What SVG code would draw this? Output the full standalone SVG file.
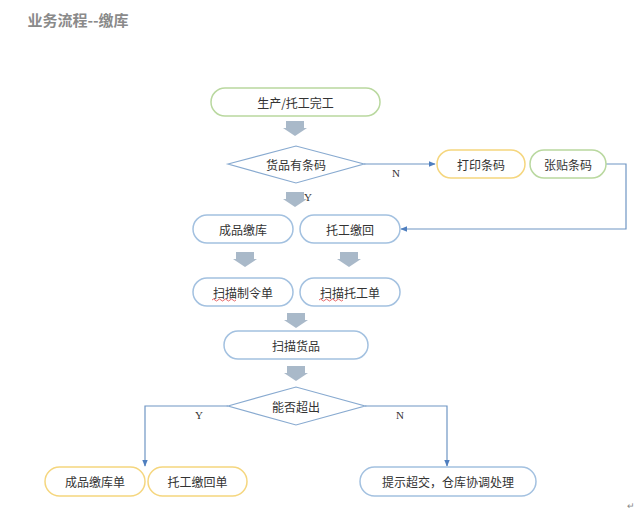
<svg xmlns="http://www.w3.org/2000/svg" width="640" height="514" viewBox="0 0 640 514">
<style>
text{font-family:"Noto Sans CJK SC","Noto Sans",sans-serif;font-size:12px;fill:#333;text-anchor:middle;dominant-baseline:central}
.lbl{font-family:"Liberation Serif",serif;font-size:11px;fill:#333}
.pg{fill:#fff;stroke:#b9d89f;stroke-width:1.5}
.py{fill:#fff;stroke:#f5d67e;stroke-width:1.5}
.pb{fill:#fff;stroke:#a3c1e0;stroke-width:1.5}
.dm{fill:#fff;stroke:#88aad0;stroke-width:1.2}
.ba{fill:#a9b9c9}
.ln{fill:none;stroke:#6f96c4;stroke-width:1.2}
.sq{fill:none;stroke:#e04040;stroke-width:0.8}
</style>
<defs>
<marker id="ah" viewBox="0 0 10 10" refX="9" refY="5" markerWidth="7" markerHeight="7" orient="auto" markerUnits="userSpaceOnUse">
<path d="M0,1 L10,5 L0,9 Z" fill="#4f7fbf"/>
</marker>
<path id="blk" d="M-9,0 H9 V7 H12 L0,15 L-12,7 H-9 Z"/>
</defs>
<rect width="640" height="514" fill="#fff"/>
<text x="78" y="19" style="font-size:15px;font-weight:bold;fill:#8a8a8a">业务流程--缴库</text>

<g id="block-arrows" class="ba">
<use href="#blk" x="295" y="121"/>
<use href="#blk" x="295" y="192"/>
<use href="#blk" x="245" y="252"/>
<use href="#blk" x="349" y="252"/>
<use href="#blk" x="296" y="313"/>
<use href="#blk" x="296" y="366"/>
</g>

<g id="connectors">
<path class="ln" d="M364,164 H435" marker-end="url(#ah)"/>
<path class="ln" d="M606,164 H626 V229 H401" marker-end="url(#ah)"/>
<path class="ln" d="M228,406 H145 V466" marker-end="url(#ah)"/>
<path class="ln" d="M365,406 H447 V466" marker-end="url(#ah)"/>
<text class="lbl" x="396" y="173">N</text>
<text class="lbl" x="308" y="197">Y</text>
<text class="lbl" x="199" y="415">Y</text>
<text class="lbl" x="400" y="415">N</text>
</g>

<g id="n-start"><rect class="pg" x="211" y="88" width="169" height="28" rx="14"/><text x="295.5" y="102">生产/托工完工</text></g>
<g id="n-has-barcode"><polygon class="dm" points="228,164 296,146 364,164 296,183"/><text x="296" y="164">货品有条码</text></g>
<g id="n-print"><rect class="py" x="437" y="150" width="88" height="28" rx="14"/><text x="481" y="164">打印条码</text></g>
<g id="n-stick"><rect class="pg" x="530" y="150" width="76" height="28" rx="14"/><text x="568" y="164">张贴条码</text></g>
<g id="n-fg-in"><rect class="pb" x="193" y="215" width="100" height="28" rx="14"/><text x="243" y="229">成品缴库</text></g>
<g id="n-oem-back"><rect class="pb" x="300" y="215" width="100" height="28" rx="14"/><text x="350" y="229">托工缴回</text></g>
<g id="n-scan-mo"><rect class="pb" x="193" y="278" width="100" height="28" rx="14"/><text x="243" y="292">扫描制令单</text><path class="sq" d="M212,300 q1.5,-2 3,0 t3,0 t3,0 t3,0 t3,0 t3,0 t3,0 t3,0"/></g>
<g id="n-scan-oem"><rect class="pb" x="300" y="278" width="100" height="28" rx="14"/><text x="350" y="292">扫描托工单</text><path class="sq" d="M319,300 q1.5,-2 3,0 t3,0 t3,0 t3,0 t3,0 t3,0 t3,0 t3,0"/></g>
<g id="n-scan-goods"><rect class="pb" x="224" y="331" width="144" height="28" rx="14"/><text x="296" y="345">扫描货品</text></g>
<g id="n-exceed"><polygon class="dm" points="228,406 296,387 365,406 296,425"/><text x="296" y="406">能否超出</text></g>
<g id="n-fg-slip"><rect class="py" x="45" y="467" width="100" height="29" rx="14.5"/><text x="95" y="481.5">成品缴库单</text></g>
<g id="n-oem-slip"><rect class="py" x="148" y="467" width="99" height="29" rx="14.5"/><text x="197.5" y="481.5">托工缴回单</text></g>
<g id="n-warn"><rect class="pb" x="360" y="467" width="176" height="29" rx="14.5"/><text x="448" y="481.5">提示超交，仓库协调处理</text></g>
<text x="631" y="505" style="font-size:9px;fill:#888">↵</text>
</svg>
